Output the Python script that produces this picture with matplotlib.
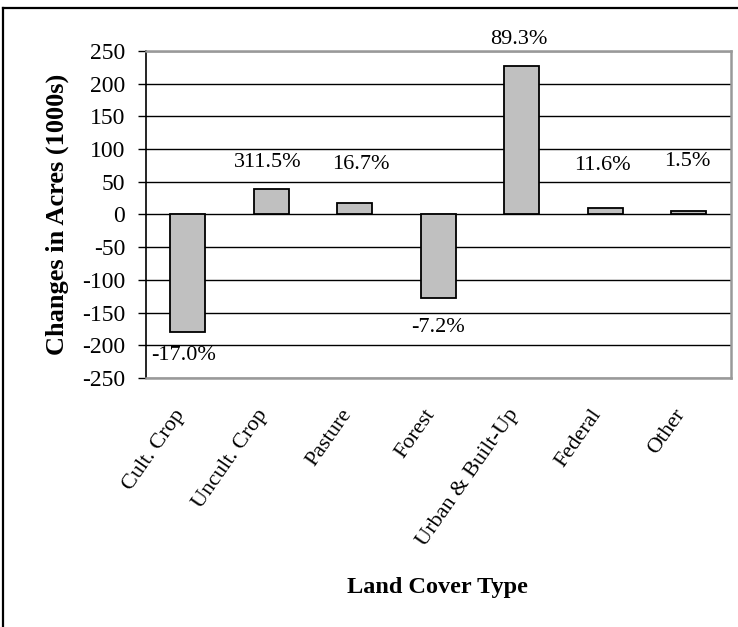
import matplotlib
matplotlib.use("Agg")
from matplotlib import pyplot as plt
from matplotlib.transforms import ScaledTranslation
from matplotlib.lines import Line2D
import numpy as np

categories = ["Cult. Crop", "Uncult. Crop", "Pasture", "Forest",
              "Urban & Built-Up", "Federal", "Other"]
changes = [-180, 39, 18, -128, 226, 10, 6]  # acres, 1000s
pct_labels = ["-17.0%", "311.5%", "16.7%", "-7.2%", "89.3%", "11.6%", "1.5%"]

plt.rcParams['font.family'] = ['Liberation Serif', 'DejaVu Serif']
plt.rcParams['axes.unicode_minus'] = False

fig = plt.figure(figsize=(7.38, 6.27), dpi=100)
ax = fig.add_axes([0.198, 0.397, 0.792, 0.522])

x = np.arange(len(categories))
ax.bar(x, changes, width=0.42, color='#c0c0c0', edgecolor='black',
       linewidth=1.3, zorder=3)

# percent labels sit where they were dragged to in the original sheet
label_y = [-215, 80, 77, -172, 267, 74, 81]
label_dx = [-0.05, -0.04, 0.07, 0.0, -0.04, -0.04, -0.02]
for i, txt in enumerate(pct_labels):
    ax.text(x[i] + label_dx[i], label_y[i], txt, ha='center', va='center',
            fontsize=16, clip_on=False, zorder=4)

ax.set_xlim(-0.5, len(categories) - 0.5)
ax.set_ylim(-250, 250)
ax.set_yticks(np.arange(-250, 251, 50))
ax.yaxis.grid(True, color='black', linewidth=1.0, zorder=0)
ax.set_axisbelow(True)

ax.set_xticks(x)
ax.set_xticklabels(categories, rotation=55, ha='right', va='top',
                   rotation_mode='anchor', fontsize=16)
ax.tick_params(axis='x', length=0, pad=20)
ax.tick_params(axis='y', direction='out', length=6, width=1.0,
               labelsize=17, pad=9)
shift = ScaledTranslation(-15 / 100, 0, fig.dpi_scale_trans)
for lab in ax.get_xticklabels():
    lab.set_transform(lab.get_transform() + shift)

for side in ['top', 'right', 'bottom']:
    ax.spines[side].set_color('#999999')
    ax.spines[side].set_linewidth(1.8)
ax.spines['left'].set_color('black')
ax.spines['left'].set_linewidth(1.2)

ax.set_ylabel("Changes in Acres (1000s)", fontsize=19, fontweight='bold')
ax.yaxis.set_label_coords(-0.132, 0.5)
fig.text(0.593, 1 - 587 / 627, "Land Cover Type", ha='center', va='center',
         fontsize=17.5, fontweight='bold')

# outer frame (left and top edges only show on the page)
fig.add_artist(Line2D([3 / 738, 3 / 738], [0, 1 - 8 / 627],
                      transform=fig.transFigure, color='black', lw=1.6))
fig.add_artist(Line2D([3 / 738, 1], [1 - 8 / 627, 1 - 8 / 627],
                      transform=fig.transFigure, color='black', lw=1.6))

plt.savefig("out.png", dpi=100)
